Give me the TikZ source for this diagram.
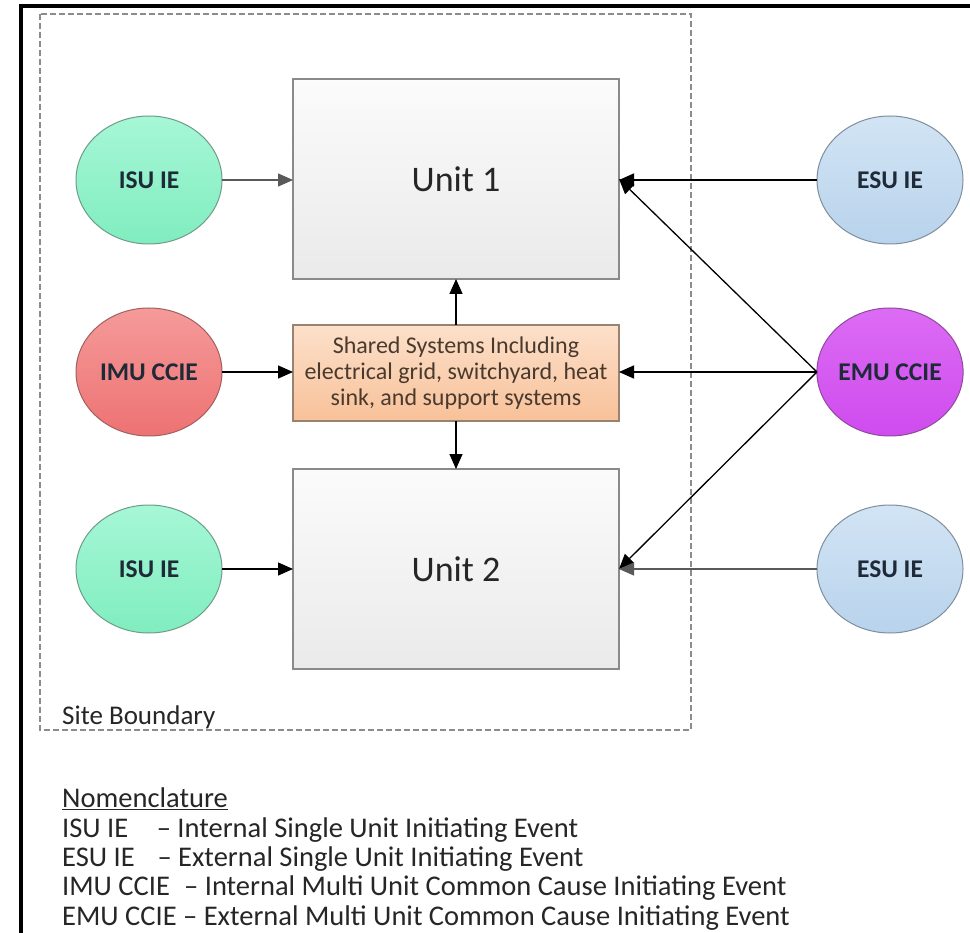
\documentclass[tikz,border=0pt]{standalone}
\usepackage{fontspec}
\setmainfont{Carlito}
\usetikzlibrary{arrows.meta,shapes.geometric}
\definecolor{txt}{HTML}{1E2A38}
\definecolor{unitborder}{HTML}{8A8A8A}
\definecolor{unittop}{HTML}{FBFBFB}
\definecolor{unitbot}{HTML}{EAEAEA}
\definecolor{shtop}{HTML}{FCE0CA}
\definecolor{shbot}{HTML}{F8C199}
\definecolor{shborder}{HTML}{9A8270}
\definecolor{shtext}{HTML}{4A3A2E}
\definecolor{isutop}{HTML}{A6F7D6}
\definecolor{isubot}{HTML}{80EDBF}
\definecolor{isuborder}{HTML}{6F9C8A}
\definecolor{imutop}{HTML}{F59A9A}
\definecolor{imubot}{HTML}{EE7272}
\definecolor{imuborder}{HTML}{A06060}
\definecolor{esutop}{HTML}{D2E4F4}
\definecolor{esubot}{HTML}{B8D3EC}
\definecolor{esuborder}{HTML}{7E8E9E}
\definecolor{emutop}{HTML}{DC6CF4}
\definecolor{emubot}{HTML}{CF4BEE}
\definecolor{emuborder}{HTML}{8E4A9C}
\definecolor{boundary}{HTML}{8C8C8C}
\definecolor{darkgraytxt}{HTML}{262626}
\begin{document}
\begin{tikzpicture}[x=1pt,y=-1pt,
  ev/.style={ellipse, minimum width=146pt, minimum height=128pt, inner sep=0pt, outer sep=0pt,
    line width=1pt, font=\fontsize{25.5}{30}\selectfont\bfseries, text=txt},
  unitbox/.style={rectangle, minimum width=326pt, minimum height=200pt, outer sep=0pt,
    draw=unitborder, line width=1.6pt, top color=unittop, bottom color=unitbot,
    font=\fontsize{36}{40}\selectfont, text=darkgraytxt},
  sharedbox/.style={rectangle, minimum width=326pt, minimum height=96pt, outer sep=0pt,
    draw=shborder, line width=1.3pt, top color=shtop, bottom color=shbot,
    align=center, font=\fontsize{24}{26}\selectfont, text=shtext},
  arr/.style={-{Triangle[length=15pt,width=13pt]}, line width=1.3pt, draw=black},
  grayarr/.style={-{Triangle[length=15pt,width=13pt]}, line width=1.1pt, draw=black!65},
]
\useasboundingbox (0,0) rectangle (970,933);
\fill[white] (0,0) rectangle (970,933);
% outer frame
\draw[line width=3.5pt, black] (21,933) -- (21,6) -- (970,6);
% site boundary
\draw[boundary, line width=1.3pt, dash pattern=on 6pt off 3pt] (40,14) rectangle (691,730);
\node[anchor=base west, font=\fontsize{27}{30}\selectfont, text=darkgraytxt, inner sep=0pt] (sb) at (62,724) {Site Boundary};
% units and shared systems
\node[unitbox] (u1) at (456,179) {Unit 1};
\node[sharedbox] (sh) at (456,373) {Shared Systems Including\\electrical grid, switchyard, heat\\sink, and support systems};
\node[unitbox] (u2) at (456,569) {Unit 2};
% initiating events
\node[ev, draw=isuborder, top color=isutop, bottom color=isubot] (isu1) at (149,180) {ISU IE};
\node[ev, draw=imuborder, top color=imutop, bottom color=imubot] (imu) at (149,372) {IMU CCIE};
\node[ev, draw=isuborder, top color=isutop, bottom color=isubot] (isu2) at (149,569) {ISU IE};
\node[ev, draw=esuborder, top color=esutop, bottom color=esubot] (esu1) at (890,180) {ESU IE};
\node[ev, draw=emuborder, top color=emutop, bottom color=emubot] (emu) at (890,372) {EMU CCIE};
\node[ev, draw=esuborder, top color=esutop, bottom color=esubot] (esu2) at (890,569) {ESU IE};
% connectors
\draw[grayarr] (isu1.east) -- (isu1.east -| u1.west);
\draw[arr] (imu.east) -- (imu.east -| sh.west);
\draw[arr] (isu2.east) -- (isu2.east -| u2.west);
\draw[arr] (sh.north) -- (u1.south);
\draw[arr] (sh.south) -- (u2.north);
\draw[arr] (esu1.west) -- (esu1.west -| u1.east);
\draw[arr] (emu.west) -- (u1.east);
\draw[arr] (emu.west) -- (emu.west -| sh.east);
\draw[arr] (emu.west) -- (u2.east);
\draw[grayarr] (esu2.west) -- (esu2.west -| u2.east);
% nomenclature
\node[anchor=north west, align=left, inner sep=0pt, text=darkgraytxt,
  font=\fontsize{28.5}{29.3}\selectfont] (nom) at (62,788)
  {\underline{Nomenclature}\\
   ISU IE\hspace{1.0em}– Internal Single Unit Initiating Event\\
   ESU IE\hspace{0.8em}– External Single Unit Initiating Event\\
   IMU CCIE\hspace{0.5em}– Internal Multi Unit Common Cause Initiating Event\\
   EMU CCIE – External Multi Unit Common Cause Initiating Event};
\end{tikzpicture}
\end{document}
